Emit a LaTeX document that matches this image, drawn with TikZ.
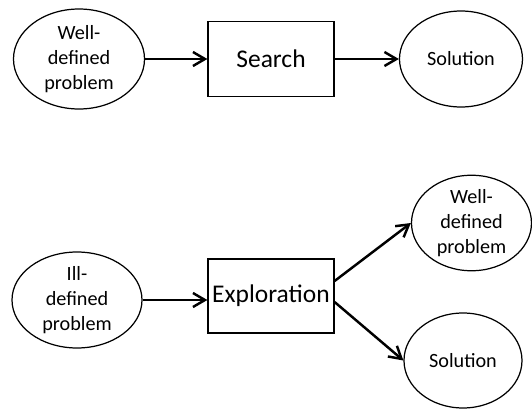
\documentclass[tikz,border=0pt]{standalone}
\usepackage{fontspec}
\setmainfont{Carlito}
\usetikzlibrary{shapes.geometric,arrows.meta}

\begin{document}
\begin{tikzpicture}[
	problem/.style={draw,
		ellipse,
		line width=0.7pt,
		inner sep=0pt,
		align=center,
		font=\fontsize{11.5}{14.3}\selectfont},
	process/.style={draw,
		rectangle,
		line width=0.7pt,
		inner sep=0pt,
		minimum width=2.52cm,
		minimum height=1.5cm,
		font=\fontsize{14.5}{17}\selectfont},
	flow/.style={-{Straight Barb[length=2.4mm,width=2.8mm]},
		line width=1.4pt}
	]
	
	\useasboundingbox (0,0) rectangle (10.64,8.16);
	
	% Well-defined problem
	\node [problem,
	minimum width=2.62cm,
	minimum height=2cm] (WD) at (1.58,6.98){Well-\\defined\\problem};
	
	% Search
	\node [process] (Search) at (5.42,6.98){Search};
	
	% Solution
	\node [problem,
	minimum width=2.46cm,
	minimum height=1.92cm] (Sol) at (9.22,6.98){Solution};
	
	% Ill-defined problem
	\node [problem,
	minimum width=2.6cm,
	minimum height=1.92cm] (ID) at (1.54,2.16){Ill-\\defined\\problem};
	
	% Exploration
	\node [process,
	minimum height=1.48cm] (Explore) at (5.42,2.24){Exploration};
	
	% Results of exploration
	\node [problem,
	minimum width=2.4cm,
	minimum height=1.86cm] (WD2) at (9.43,3.7){Well-\\defined\\problem};
	
	\node [problem,
	minimum width=2.36cm,
	minimum height=1.9cm] (Sol2) at (9.26,0.95){Solution};
	
	\draw [flow] (WD) -- (Search);
	\draw [flow] (Search) -- (Sol);
	\draw [flow] (ID.east) -- (Explore.west |- ID.east);
	\draw [flow] ([yshift=0.3cm]Explore.east) -- (WD2.west);
	\draw [flow] ([yshift=-0.12cm]Explore.east) -- (Sol2.west);
	
\end{tikzpicture}
\end{document}
